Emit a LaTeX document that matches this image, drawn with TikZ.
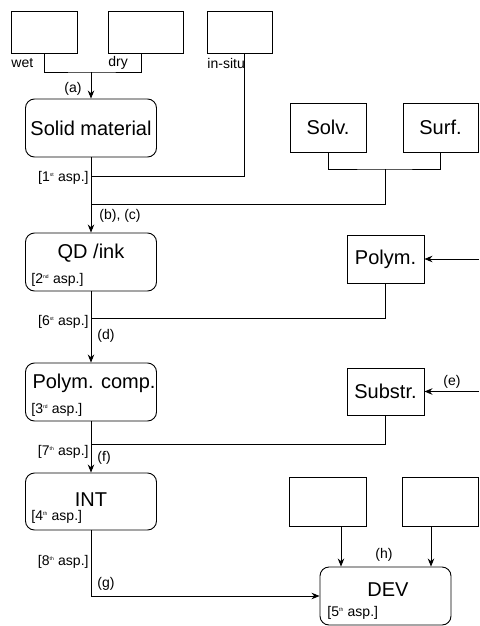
\documentclass[tikz,border=0pt]{standalone}
\usepackage{fontspec}
\setmainfont{Liberation Sans}
\usetikzlibrary{arrows.meta}
\begin{document}
\begin{tikzpicture}[x=1pt,y=-1pt,
  line width=0.9pt,
  box/.style={draw,rectangle,inner sep=0pt,minimum width=#1},
  rbox/.style={draw,rounded corners=9pt,inner sep=0pt,minimum width=131pt,minimum height=58pt},
  big/.style={font=\fontsize{20}{22}\selectfont,inner sep=0pt},
  small/.style={font=\fontsize{14}{16}\selectfont,inner sep=0pt},
  arr/.style={-{Stealth[length=8pt,width=6.5pt]}}]
\useasboundingbox (0,0) rectangle (479,626);
% top boxes
\node[box=66pt,minimum height=42pt] (wet) at (44,32) {};
\node[box=75pt,minimum height=42pt] (dry) at (145.5,32) {};
\node[box=65pt,minimum height=42pt] (insitu) at (239.5,32) {};
\node[small,anchor=west] (lwet) at (11,63) {wet};
\node[small,anchor=west] (ldry) at (108,63) {dry};
\node[small,anchor=west] (linsitu) at (207,63) {in-situ};
% main column
\node[rbox] (solid) at (91,128) {};
\node[big] (tsolid) at (91,128) {Solid material};
\node[rbox] (qd) at (91,262) {};
\node[big] (tqd) at (91,253) {QD /ink};
\node[small,anchor=west] (aqd) at (31,280) {[2\textsuperscript{\tiny nd} asp.]};
\node[rbox] (pc) at (91,392) {};
\node[big] (tpc) at (94,383) {Polym. comp.};
\node[small,anchor=west] (apc) at (31,410) {[3\textsuperscript{\tiny rd} asp.]};
\node[rbox,minimum height=57pt] (int) at (91,501.5) {};
\node[big] (tint) at (91,500) {INT};
\node[small,anchor=west] (aint) at (31,517) {[4\textsuperscript{\tiny th} asp.]};
% right column
\node[box=76pt,minimum height=49pt] (solv) at (328,127.5) {};
\node[big] (tsolv) at (328,127.5) {Solv.};
\node[box=75pt,minimum height=49pt] (surf) at (440.5,127.5) {};
\node[big] (tsurf) at (440.5,127.5) {Surf.};
\node[box=77pt,minimum height=48pt] (polym) at (385.5,259) {};
\node[big] (tpolym) at (385.5,259) {Polym.};
\node[box=77pt,minimum height=47pt] (substr) at (385.5,391.5) {};
\node[big] (tsubstr) at (385.5,391.5) {Substr.};
\node[box=77pt,minimum height=49pt] (e1) at (327.5,501.5) {};
\node[box=76pt,minimum height=49pt] (e2) at (440,501.5) {};
\node[rbox] (dev) at (385.5,596) {};
\node[big] (tdev) at (388,590) {DEV};
\node[small,anchor=west] (adev) at (327,613) {[5\textsuperscript{\tiny th} asp.]};
% junction coordinates
\coordinate (ja) at (91,72);
\coordinate (j1) at (91,176);
\coordinate (jsv) at (385,169);
\coordinate (j2) at (91,204);
\coordinate (j6) at (91,318);
\coordinate (j7) at (91,444);
\coordinate (inpol) at (479,259);
\coordinate (insub) at (479,391.5);
% connectors
\draw (wet.south) |- (ja) -| ([xshift=-4.5pt]dry.south);
\draw[arr] (ja) -- (solid.north);
\draw ([xshift=4.5pt]insitu.south) |- (j1);
\draw (solv.south) |- (jsv) -| (surf.south);
\draw (jsv) |- (j2);
\draw[arr] (solid.south) -- (qd.north);
\draw[arr] (qd.south) -- (pc.north);
\draw[arr] (pc.south) -- (int.north);
\draw[arr] (inpol) -- (polym.east);
\draw[arr] (insub) -- (substr.east);
\draw (polym.south) |- (j6);
\draw (substr.south) |- (j7);
\draw[arr] (int.south) |- (dev.west);
\draw[arr] ([xshift=13.5pt]e1.south) -- ([xshift=13.5pt]e1.south |- dev.north);
\draw[arr] ([xshift=-9pt]e2.south) -- ([xshift=-9pt]e2.south |- dev.north);
% edge labels
\node[small] (la) at (73,89) {(a)};
\node[small,anchor=east] (l1) at (89,178) {[1\textsuperscript{\tiny st} asp.]};
\node[small,anchor=west] (lbc) at (99,216) {(b), (c)};
\node[small,anchor=east] (l6) at (89,322) {[6\textsuperscript{\tiny st} asp.]};
\node[small,anchor=west] (ld) at (97,336) {(d)};
\node[small] (le) at (452,382) {(e)};
\node[small,anchor=east] (l7) at (89,452) {[7\textsuperscript{\tiny th} asp.]};
\node[small,anchor=west] (lf) at (97,458) {(f)};
\node[small,anchor=east] (l8) at (89,562) {[8\textsuperscript{\tiny th} asp.]};
\node[small,anchor=west] (lg) at (97,584) {(g)};
\node[small] (lh) at (384,555) {(h)};
\end{tikzpicture}
\end{document}
